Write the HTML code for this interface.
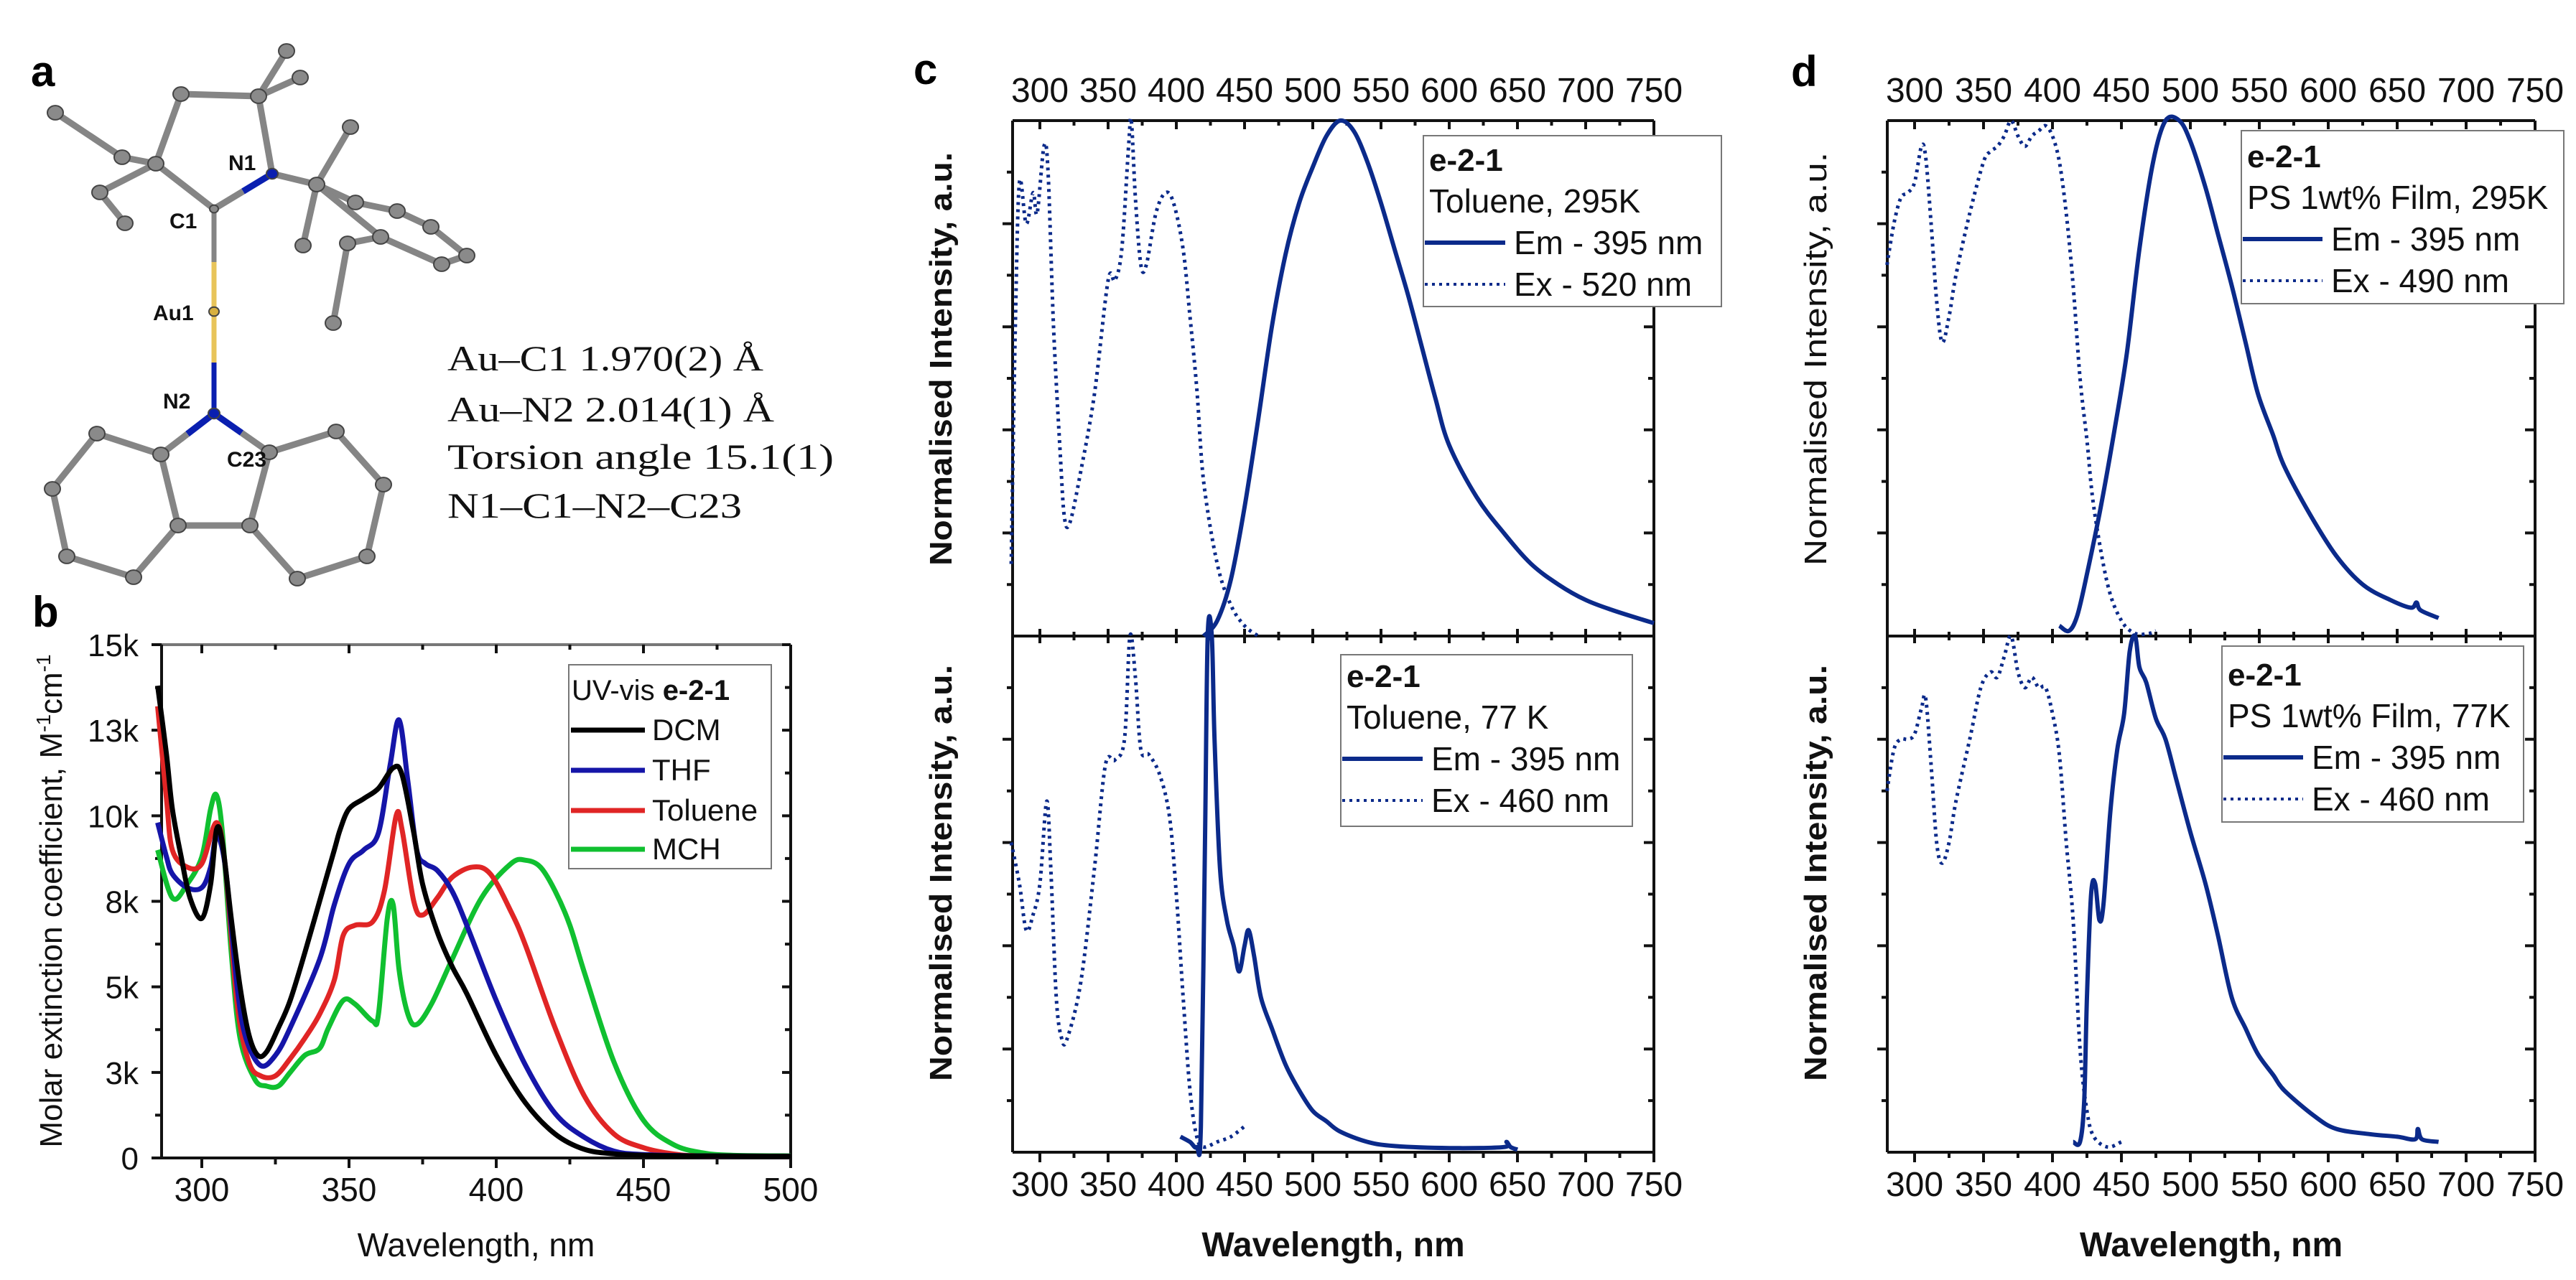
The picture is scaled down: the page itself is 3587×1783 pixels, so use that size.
<!DOCTYPE html>
<html><head><meta charset="utf-8"><style>
html,body{margin:0;padding:0;background:#fff}
svg{display:block}
text{font-family:"Liberation Sans",Arial,sans-serif}
.serif{font-family:"Liberation Serif","Times New Roman",serif}
</style></head><body>
<svg id="fig" width="3587" height="1783" viewBox="0 0 3587 1783" xmlns="http://www.w3.org/2000/svg">
<rect width="3587" height="1783" fill="#fff"/>
<text x="43" y="120" font-size="60" font-weight="bold">a</text>
<text x="45" y="873" font-size="60" font-weight="bold">b</text>
<text x="1272" y="117" font-size="60" font-weight="bold">c</text>
<text x="2494" y="120" font-size="60" font-weight="bold">d</text>
<g id="mol"></g>
<g class="serif" font-size="50" fill="#111">
<text class="serif" x="623" y="516" textLength="440" lengthAdjust="spacingAndGlyphs">Au–C1  1.970(2) Å</text>
<text class="serif" x="623" y="587" textLength="455" lengthAdjust="spacingAndGlyphs">Au–N2  2.014(1) Å</text>
<text class="serif" x="623" y="653" textLength="538" lengthAdjust="spacingAndGlyphs">Torsion angle 15.1(1)</text>
<text class="serif" x="623" y="721" textLength="410" lengthAdjust="spacingAndGlyphs">N1–C1–N2–C23</text>
</g>
<g id="pb"></g>
<g id="pc"></g>
<g id="pd"></g>
</svg>
<script>
// ---------- Panel b data (nm, extinction in thousands) ----------
const bTickVals = [0, 2.5, 5, 7.5, 10, 12.5, 15];
const bTickLabels = ["0", "3k", "5k", "8k", "10k", "13k", "15k"];
const bXTicks = [300, 350, 400, 450, 500];
const dcmNm = [285,288,290,293,296,300,303,305,307,310,313,316,319,322,326,330,335,340,345,347,350,355,360,365,368,372,375,380,385,390,400,410,420,430,440,450,470,500];
const dcmVal = [13.8,11.8,10.2,8.8,7.6,7.0,8.0,9.6,9.2,7.0,5.0,3.6,3.0,3.1,3.8,4.6,6.0,7.5,9.0,9.6,10.2,10.5,10.8,11.4,11.2,9.5,8.0,6.6,5.6,4.8,3.0,1.6,0.7,0.25,0.12,0.08,0.06,0.05];
const thfNm = [285,288,290,295,300,303,305,308,312,315,320,325,330,340,345,350,355,360,364,367,370,373,376,380,385,390,400,410,420,430,440,450,470,500];
const thfVal = [9.8,8.8,8.3,7.9,7.9,8.5,9.4,8.5,5.0,3.5,2.7,3.0,3.8,5.8,7.4,8.6,9.0,9.5,11.5,12.8,11.0,9.0,8.6,8.4,7.8,6.8,4.6,2.7,1.3,0.6,0.2,0.1,0.06,0.05];
const tolNm = [285,288,290,295,300,305,308,312,316,320,325,330,335,340,345,348,352,358,362,366,368,372,375,380,385,392,398,405,410,420,430,440,450,460,470,500];
const tolVal = [13.2,10.5,9.0,8.5,8.6,9.8,8.5,4.5,2.8,2.4,2.4,2.9,3.5,4.2,5.2,6.5,6.8,6.9,7.8,10.0,9.6,7.5,7.1,7.6,8.2,8.5,8.3,7.2,6.2,3.8,1.8,0.7,0.3,0.12,0.06,0.05];
const mchNm = [285,290,295,300,303,305,307,310,313,318,322,326,330,335,340,343,348,352,358,360,363,365,367,370,373,378,385,395,405,410,415,420,425,430,440,450,460,470,480,500];
const mchVal = [9.0,7.6,8.0,8.8,10.2,10.6,9.5,6.0,3.5,2.3,2.1,2.1,2.5,3.0,3.2,3.8,4.6,4.5,4.0,4.2,7.0,7.4,5.5,4.2,3.9,4.5,5.8,7.6,8.6,8.7,8.5,7.8,6.8,5.4,2.8,1.1,0.4,0.15,0.08,0.06];

// ---------- Panel c data (normalised) ----------
const cXTicks = [300,350,400,450,500,550,600,650,700,750];
const cTopEmNm = [420,430,440,450,460,470,480,490,500,510,520,530,540,550,560,570,580,590,600,620,640,660,680,700,720,750];
const cTopEmVal = [0,0.03,0.11,0.25,0.42,0.6,0.74,0.84,0.91,0.97,1.0,0.98,0.92,0.84,0.75,0.66,0.56,0.46,0.37,0.27,0.2,0.14,0.1,0.07,0.05,0.025];
const cTopExNm = [279,282,285,290,295,298,303,306,310,315,318,322,330,340,350,355,360,365,367,370,374,378,385,392,398,405,410,415,420,430,440,450,460];
const cTopExVal = [0.14,0.6,0.88,0.8,0.86,0.82,0.95,0.9,0.6,0.35,0.23,0.22,0.32,0.47,0.69,0.69,0.75,0.95,1.0,0.85,0.72,0.72,0.82,0.86,0.84,0.75,0.62,0.48,0.3,0.14,0.06,0.02,0.0];
const cBotEmNm = [403,410,415,418,421,423,426,428,432,437,442,446,450,453,457,462,470,480,490,500,510,520,540,560,600,640,642,645,650];
const cBotEmVal = [0.03,0.02,0.01,0.05,0.6,1.0,1.0,0.8,0.55,0.45,0.4,0.35,0.4,0.43,0.38,0.3,0.24,0.17,0.12,0.08,0.06,0.04,0.02,0.012,0.008,0.01,0.02,0.01,0.005];
const cBotExNm = [279,285,290,295,300,305,308,312,316,320,330,340,348,355,362,366,370,374,380,388,395,400,405,410,415,420,430,440,450];
const cBotExVal = [0.6,0.52,0.43,0.46,0.52,0.68,0.55,0.3,0.22,0.22,0.33,0.55,0.75,0.76,0.8,1.0,0.92,0.78,0.77,0.73,0.65,0.5,0.3,0.12,0.03,0.01,0.02,0.03,0.05];

// ---------- Panel d data (normalised) ----------
const dTopEmNm = [405,412,418,425,435,445,454,463,473,482,492,500,511,520,530,540,549,560,568,587,606,625,645,660,664,667,680];
const dTopEmVal = [0.02,0.01,0.04,0.12,0.25,0.4,0.55,0.75,0.92,1.0,1.0,0.96,0.87,0.78,0.68,0.57,0.47,0.39,0.33,0.235,0.155,0.1,0.07,0.055,0.065,0.05,0.035];
const dTopExNm = [280,285,290,295,300,305,308,312,316,320,325,330,340,350,355,360,365,370,375,380,385,390,395,400,405,410,415,420,425,430,440,450,460,470,475];
const dTopExVal = [0.72,0.8,0.85,0.86,0.88,0.95,0.93,0.8,0.65,0.57,0.62,0.7,0.82,0.92,0.94,0.95,0.97,1.0,0.97,0.95,0.97,0.98,0.99,0.97,0.92,0.82,0.68,0.5,0.38,0.25,0.1,0.03,0.005,0.005,0.01];
const dBotEmNm = [415,420,423,425,428,431,434,437,442,447,452,456,460,463,468,475,482,490,500,511,520,530,540,549,560,568,590,606,630,650,663,665,668,680];
const dBotEmVal = [0.02,0.02,0.1,0.3,0.5,0.52,0.45,0.48,0.66,0.78,0.85,0.97,1.0,0.94,0.91,0.84,0.8,0.72,0.62,0.52,0.42,0.3,0.24,0.19,0.15,0.12,0.07,0.045,0.035,0.03,0.025,0.045,0.025,0.02];
const dBotExNm = [280,285,290,295,300,305,308,312,316,320,325,330,340,348,355,360,365,370,375,380,385,390,395,400,405,410,415,420,425,430,440,450];
const dBotExVal = [0.7,0.78,0.8,0.8,0.81,0.86,0.88,0.75,0.6,0.56,0.6,0.68,0.8,0.9,0.93,0.92,0.96,1.0,0.93,0.9,0.92,0.9,0.9,0.85,0.77,0.6,0.45,0.2,0.08,0.03,0.01,0.02];

const NS = "http://www.w3.org/2000/svg";
function mk(parent, tag, attrs, txt){
  const e = document.createElementNS(NS, tag);
  for (const k in attrs) e.setAttribute(k, attrs[k]);
  if (txt !== undefined) e.textContent = txt;
  parent.appendChild(e);
  return e;
}
function linePath(nms, vals, X, Y){
  const p = nms.map((n,i)=>[X(n), Y(vals[i])]);
  let d = "M" + p[0][0].toFixed(1) + "," + p[0][1].toFixed(1);
  const k = 1/6;
  for (let i = 0; i < p.length-1; i++){
    const p0 = p[Math.max(0,i-1)], p1 = p[i], p2 = p[i+1], p3 = p[Math.min(p.length-1,i+2)];
    const c1x = p1[0] + (p2[0]-p0[0])*k, c1y = p1[1] + (p2[1]-p0[1])*k;
    const c2x = p2[0] - (p3[0]-p1[0])*k, c2y = p2[1] - (p3[1]-p1[1])*k;
    d += "C" + c1x.toFixed(1) + "," + c1y.toFixed(1) + " " + c2x.toFixed(1) + "," + c2y.toFixed(1) + " " + p2[0].toFixed(1) + "," + p2[1].toFixed(1);
  }
  return d;
}

// ---------- Molecule ----------
(function(){
  const g = document.getElementById('mol');
  const atoms = {
    C1:[298,291], N1:[379,242], Au:[298,434], N2:[298,576],
    Cl:[224,633], Cr:[375,630], C3:[248,732], C4:[348,732],
    L1:[135,604], L2:[73,681], L3:[93,775], L4:[186,804],
    R1:[468,601], R2:[534,675], R3:[511,775], R4:[414,806],
    Cq:[217,228], CH2:[252,131], CM:[360,134], M1:[399,71], M2:[418,108],
    E1:[170,219], E2:[77,157], E3:[139,268], E4:[174,311],
    Ci:[441,257], A1:[495,282], A2:[553,294], A3:[600,316], A4:[650,356], A5:[615,368], A6:[530,330],
    P1:[488,177], P2:[422,342], P3:[484,339], P4:[464,450]
  };
  const bonds = [["Cl","L1"],["L1","L2"],["L2","L3"],["L3","L4"],["L4","C3"],["C3","Cl"],["C3","C4"],["C4","Cr"],["Cr","R1"],["R1","R2"],["R2","R3"],["R3","R4"],["R4","C4"],
    ["C1","Cq"],["Cq","CH2"],["CH2","CM"],["CM","N1"],["CM","M1"],["CM","M2"],["Cq","E1"],["E1","E2"],["Cq","E3"],["E3","E4"],
    ["N1","Ci"],["Ci","A1"],["A1","A2"],["A2","A3"],["A3","A4"],["A4","A5"],["A5","A6"],["A6","Ci"],["Ci","P1"],["Ci","P2"],["A6","P3"],["P3","P4"]];
  bonds.forEach(b=>{
    const a = atoms[b[0]], c = atoms[b[1]];
    const l = mk(g,'line',{x1:a[0],y1:a[1],x2:c[0],y2:c[1],stroke:'#858585','stroke-width':9,'stroke-linecap':'round'});
    
    
  });
  const cb = [["C1","N1"],["N2","Cl"],["N2","Cr"]];
  cb.forEach(b=>{
    const a = atoms[b[0]], c = atoms[b[1]];
    const mx = (a[0]+c[0])/2, my = (a[1]+c[1])/2;
    const l1 = mk(g,'line',{x1:a[0],y1:a[1],x2:mx,y2:my,stroke:b[0]==="C1"?'#858585':'#0a1fb0','stroke-width':9});
    
    
    const l2 = mk(g,'line',{x1:mx,y1:my,x2:c[0],y2:c[1],stroke:b[0]==="C1"?'#0a1fb0':'#858585','stroke-width':9});
    
    
  });
  const auC = mk(g,'line',{x1:298,y1:291,x2:298,y2:365,stroke:'#858585','stroke-width':7});
  
  
  const auY = mk(g,'line',{x1:298,y1:365,x2:298,y2:505,stroke:'#e8c45a','stroke-width':7});
  
  
  const auN = mk(g,'line',{x1:298,y1:505,x2:298,y2:576,stroke:'#0a1fb0','stroke-width':7});
  
  
  for (const k in atoms){
    const a = atoms[k];
    let fill = '#8a8a8a', r = 11;
    if (k==="N1"||k==="N2"){fill='#0a1fb0'; r=8;}
    if (k==="C1"){r=6;}
    if (k==="Au"){fill='#d8b040'; r=7;}
    const c = mk(g,'ellipse',{cx:a[0],cy:a[1],rx:r,ry:r*0.9,fill:fill,stroke:'#444','stroke-width':2});
    
    
  }
  const labs = [["N1",318,237],["C1",236,318],["Au1",213,446],["N2",227,569],["C23",316,650]];
  labs.forEach(t=>{
    const e = mk(g,'text',{x:t[1],y:t[2],'font-size':30,'font-weight':'bold',fill:'#111'},t[0]);
    
    
  });
})();

// ---------- Panel b ----------
(function(){
  const g = document.getElementById('pb');
  const L=225, R=1101, T=898, B=1613;
  const X = nm => 281 + (nm-300)*4.1;
  const Y = v => B - v/15*(B-T);
  const fr = [[L,T,R,T,'#777'],[L,B,R,B,'#111'],[L,T,L,B,'#111'],[R,T,R,B,'#111']];
  fr.forEach(f=>{
    const l = mk(g,'line',{x1:f[0],y1:f[1],x2:f[2],y2:f[3],stroke:f[4],'stroke-width':4});
    
    
  });
  bXTicks.forEach(v=>{
    const x = X(v);
    const t = mk(g,'path',{d:`M${x},${B}v14M${x},${T}v12`,stroke:'#111','stroke-width':4});
    
    
    const lb = mk(g,'text',{x:x,y:1673,'font-size':46,'text-anchor':'middle',fill:'#111'},String(v));
    
    
    if (v<500){
      const m = mk(g,'path',{d:`M${X(v+25)},${B}v9M${X(v+25)},${T}v7`,stroke:'#111','stroke-width':4});
      
      
    }
  });
  bTickVals.forEach((v,i)=>{
    const y = Y(v);
    const t = mk(g,'path',{d:`M${L-14},${y}H${L}M${R-12},${y}H${R}`,stroke:'#111','stroke-width':4});
    
    
    const lb = mk(g,'text',{x:193,y:y+16,'font-size':44,'text-anchor':'end',fill:'#111'},bTickLabels[i]);
    
    
    if (v<15){
      const m = mk(g,'path',{d:`M${L-9},${Y(v+1.25)}H${L}M${R-8},${Y(v+1.25)}H${R}`,stroke:'#111','stroke-width':4});
      
      
    }
  });
  const xt = mk(g,'text',{x:663,y:1750,'font-size':46,'text-anchor':'middle',fill:'#111'},'Wavelength, nm');
  
  
  const yt = mk(g,'text',{transform:'translate(86,1255) rotate(-90)','font-size':44,'text-anchor':'middle',fill:'#111'});
  
  
  yt.innerHTML = 'Molar extinction coefficient, M<tspan dy="-16" font-size="28">-1</tspan><tspan dy="16">cm</tspan><tspan dy="-16" font-size="28">-1</tspan>';
  const series = [[mchNm,mchVal,'#10c030','series-mch'],[tolNm,tolVal,'#e02525','series-toluene'],[thfNm,thfVal,'#1515a8','series-thf'],[dcmNm,dcmVal,'#000','series-dcm']];
  series.forEach(s=>{
    const p = mk(g,'path',{d:linePath(s[0],s[1],X,Y),fill:'none',stroke:s[2],'stroke-width':7,'stroke-linejoin':'round'});
    
    
  });
  const lg = mk(g,'g',{});
  
  
  const box = mk(lg,'rect',{x:792,y:926,width:282,height:284,fill:'#fff',stroke:'#777','stroke-width':2});
  
  
  const lt = mk(lg,'text',{x:796,y:975,'font-size':40,fill:'#111'});
  
  
  lt.innerHTML = 'UV-vis <tspan font-weight="bold">e-2-1</tspan>';
  const ent = [['DCM','#000',1031],['THF','#1515a8',1087],['Toluene','#e02525',1143],['MCH','#10c030',1197]];
  ent.forEach(e=>{
    const l = mk(lg,'line',{x1:795,y1:e[2]-14,x2:898,y2:e[2]-14,stroke:e[1],'stroke-width':7});
    
    
    const t = mk(lg,'text',{x:908,y:e[2],'font-size':42,fill:'#111'},e[0]);
    
    
  });
})();

// ---------- Panels c & d ----------
function panel(id, L, R, x300, ppn, topEm, botEm, legs, ytBold){
  const g = document.getElementById(id);
  const T=168, M=886, B=1605;
  const X = nm => x300 + (nm-300)*ppn;
  const Yt = v => M - v*(M-T);
  const Yb = v => B - v*(B-M);
  const fr = [[L,T,R,T],[L,B,R,B],[L,T,L,B],[R,T,R,B],[L,M,R,M]];
  fr.forEach(f=>{
    const l = mk(g,'line',{x1:f[0],y1:f[1],x2:f[2],y2:f[3],stroke:'#111','stroke-width':4});
    
    
  });
  cXTicks.forEach(v=>{
    const x = X(v);
    const t = mk(g,'path',{d:`M${x},${B}v14M${x},${T}v12M${x},${M}v10M${x},${M}v-10`,stroke:'#111','stroke-width':4});
    
    
    const lb1 = mk(g,'text',{x:x,y:142,'font-size':48,'text-anchor':'middle',fill:'#111'},String(v));
    
    
    const lb2 = mk(g,'text',{x:x,y:1666,'font-size':48,'text-anchor':'middle',fill:'#111'},String(v));
    
    
    if (v<750){
      const xm = X(v+25);
      const m = mk(g,'path',{d:`M${xm},${B}v8M${xm},${T}v7M${xm},${M}v6M${xm},${M}v-6`,stroke:'#111','stroke-width':4});
      
      
    }
  });
  for (let k=1;k<10;k++){
    const v = k/10, len = (k%2===0)?14:8;
    [Yt(v),Yb(v)].forEach(y=>{
      const t = mk(g,'path',{d:`M${L-len},${y}H${L}M${R-len},${y}H${R}`,stroke:'#111','stroke-width':4});
      
      
    });
  }
  const sets = [[topEm[0],topEm[1],Yt,false,'top-emission'],[topEm[2],topEm[3],Yt,true,'top-excitation'],[botEm[0],botEm[1],Yb,false,'bottom-emission'],[botEm[2],botEm[3],Yb,true,'bottom-excitation']];
  sets.forEach(s=>{
    const a = {d:linePath(s[0],s[1],X,s[2]),fill:'none',stroke:'#0b2a8a','stroke-width':s[3]?5:6,'stroke-linejoin':'round'};
    if (s[3]) a['stroke-dasharray'] = '4 6';
    const p = mk(g,'path',a);
    
    
  });
  const cx = (L+R)/2;
  const xt = mk(g,'text',{x:cx,y:1750,'font-size':48,'font-weight':'bold','text-anchor':'middle',fill:'#111'},'Wavelength, nm');
  
  
  const yx = L-85;
  const y1 = mk(g,'text',{transform:`translate(${yx},500) rotate(-90)`,'font-size':44,'font-weight':ytBold?'bold':'normal','text-anchor':'middle',textLength:576,lengthAdjust:'spacingAndGlyphs',fill:'#111'},'Normalised Intensity, a.u.');
  
  
  const y2 = mk(g,'text',{transform:`translate(${yx},1216) rotate(-90)`,'font-size':44,'font-weight':'bold','text-anchor':'middle',textLength:580,lengthAdjust:'spacingAndGlyphs',fill:'#111'},'Normalised Intensity, a.u.');
  
  
  legs.forEach(lgd=>{
    const lg = mk(g,'g',{});
    
    
    const box = mk(lg,'rect',{x:lgd.x,y:lgd.y,width:lgd.w,height:lgd.h,fill:'#fff',stroke:'#777','stroke-width':2});
    
    
    const b0 = lgd.b;
    const t1 = mk(lg,'text',{x:lgd.x+8,y:b0,'font-size':44,'font-weight':'bold',fill:'#111'},'e-2-1');
    
    
    const t2 = mk(lg,'text',{x:lgd.x+8,y:b0+58,'font-size':46,fill:'#111'},lgd.cond);
    
    
    const s1 = mk(lg,'line',{x1:lgd.x+2,y1:b0+100,x2:lgd.x+2+lgd.sw,y2:b0+100,stroke:'#0b2a8a','stroke-width':6});
    
    
    const e1 = mk(lg,'text',{x:lgd.x+lgd.sw+14,y:b0+116,'font-size':46,fill:'#111'},'Em - 395 nm');
    
    
    const s2 = mk(lg,'line',{x1:lgd.x+2,y1:b0+158,x2:lgd.x+2+lgd.sw,y2:b0+158,stroke:'#0b2a8a','stroke-width':4,'stroke-dasharray':'4 6'});
    
    
    const e2 = mk(lg,'text',{x:lgd.x+lgd.sw+14,y:b0+174,'font-size':46,fill:'#111'},lgd.ex);
    
    
  });
}
panel('pc',1410,2303,1448,1.9,[cTopEmNm,cTopEmVal,cTopExNm,cTopExVal],[cBotEmNm,cBotEmVal,cBotExNm,cBotExVal],
  [{x:1982,y:189,w:415,h:238,b:238,cond:'Toluene, 295K',ex:'Ex - 520 nm',sw:112},
   {x:1867,y:912,w:406,h:239,b:957,cond:'Toluene, 77 K',ex:'Ex - 460 nm',sw:112}], true);
panel('pd',2628,3530,2666,1.92,[dTopEmNm,dTopEmVal,dTopExNm,dTopExVal],[dBotEmNm,dBotEmVal,dBotExNm,dBotExVal],
  [{x:3121,y:182,w:449,h:241,b:233,cond:'PS 1wt% Film, 295K',ex:'Ex - 490 nm',sw:111},
   {x:3094,y:900,w:420,h:245,b:955,cond:'PS 1wt% Film, 77K',ex:'Ex - 460 nm',sw:111}], false);
</script>
</body></html>
